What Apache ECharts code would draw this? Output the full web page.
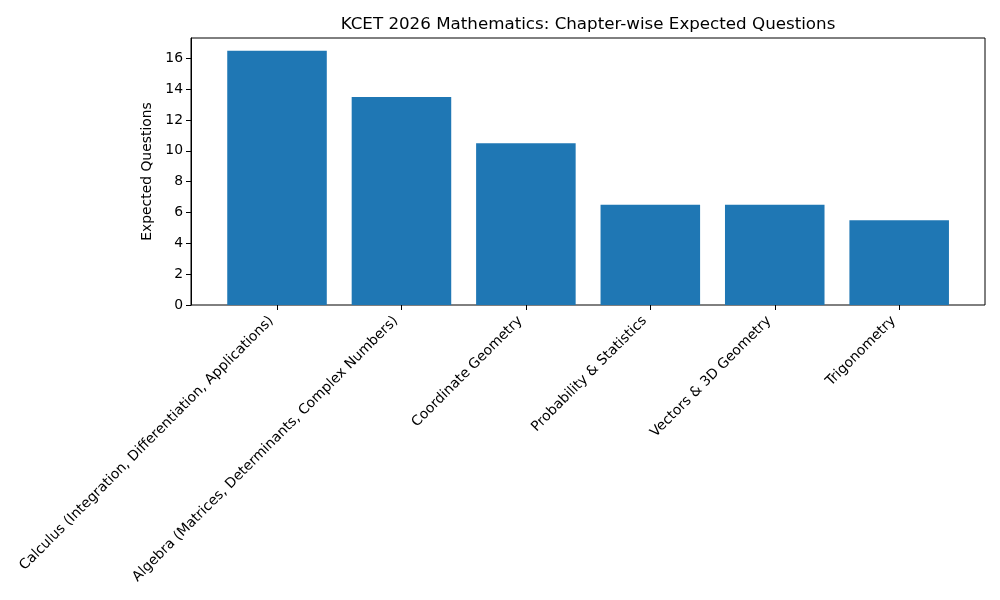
<!DOCTYPE html>
<html><head><meta charset="utf-8">
<script src="https://cdn.jsdelivr.net/npm/echarts@6/dist/echarts.min.js"></script>
<style>html,body{margin:0;padding:0;background:#fff}#c{width:1000px;height:600px}</style>
</head><body><div id="c"></div>
<script>
const categories = [
  "Calculus (Integration, Differentiation, Applications)",
  "Algebra (Matrices, Determinants, Complex Numbers)",
  "Coordinate Geometry",
  "Probability & Statistics",
  "Vectors & 3D Geometry",
  "Trigonometry"
];
const expectedQuestions = [16.5, 13.5, 10.5, 6.5, 6.5, 5.5];
const titleText = "KCET 2026 Mathematics: Chapter-wise Expected Questions";
const yAxisName = "Expected Questions";

const font = "DejaVu Sans";
const chart = echarts.init(document.getElementById('c'), null, {renderer: 'canvas'});
chart.setOption({
  animation: false,
  title: {
    text: titleText, left: 583, top: 11, textAlign: 'center',
    textStyle: {fontFamily: font, fontSize: 16.7, fontWeight: 'normal', color: '#000'}
  },
  grid: [
    {left: 191, right: 15, top: 38, bottom: 295, show: true, borderColor: '#000', borderWidth: 1, backgroundColor: 'transparent'},
    {left: 214.8, width: 746.6, top: 38, bottom: 295}
  ],
  xAxis: [
    {gridIndex: 0, type: 'value', show: false, min: 0, max: 1},
    {gridIndex: 1, type: 'category', data: categories,
      axisLine: {show: false},
      axisTick: {show: true, alignWithLabel: true, length: 5, lineStyle: {color: '#000'}},
      axisLabel: {rotate: 45, interval: 0, margin: 8, padding: [0, 8, 0, 0], fontFamily: font, fontSize: 13.9, color: '#000'}
    }
  ],
  yAxis: [
    {gridIndex: 0, type: 'value', min: 0, max: 17.325, interval: 2,
      name: yAxisName, nameLocation: 'middle', nameGap: 33, nameRotate: 90,
      nameTextStyle: {fontFamily: font, fontSize: 13.9, color: '#000'},
      axisLine: {show: true, lineStyle: {color: '#000'}},
      axisTick: {show: true, length: 5, lineStyle: {color: '#000'}},
      splitLine: {show: false},
      axisLabel: {showMaxLabel: false, margin: 8, fontFamily: font, fontSize: 13.9, color: '#000'}
    },
    {gridIndex: 1, type: 'value', min: 0, max: 17.325, show: false}
  ],
  series: [{
    type: 'bar', xAxisIndex: 1, yAxisIndex: 1, data: expectedQuestions,
    barWidth: '80%', itemStyle: {color: '#1f77b4'}
  }]
});
</script></body></html>
